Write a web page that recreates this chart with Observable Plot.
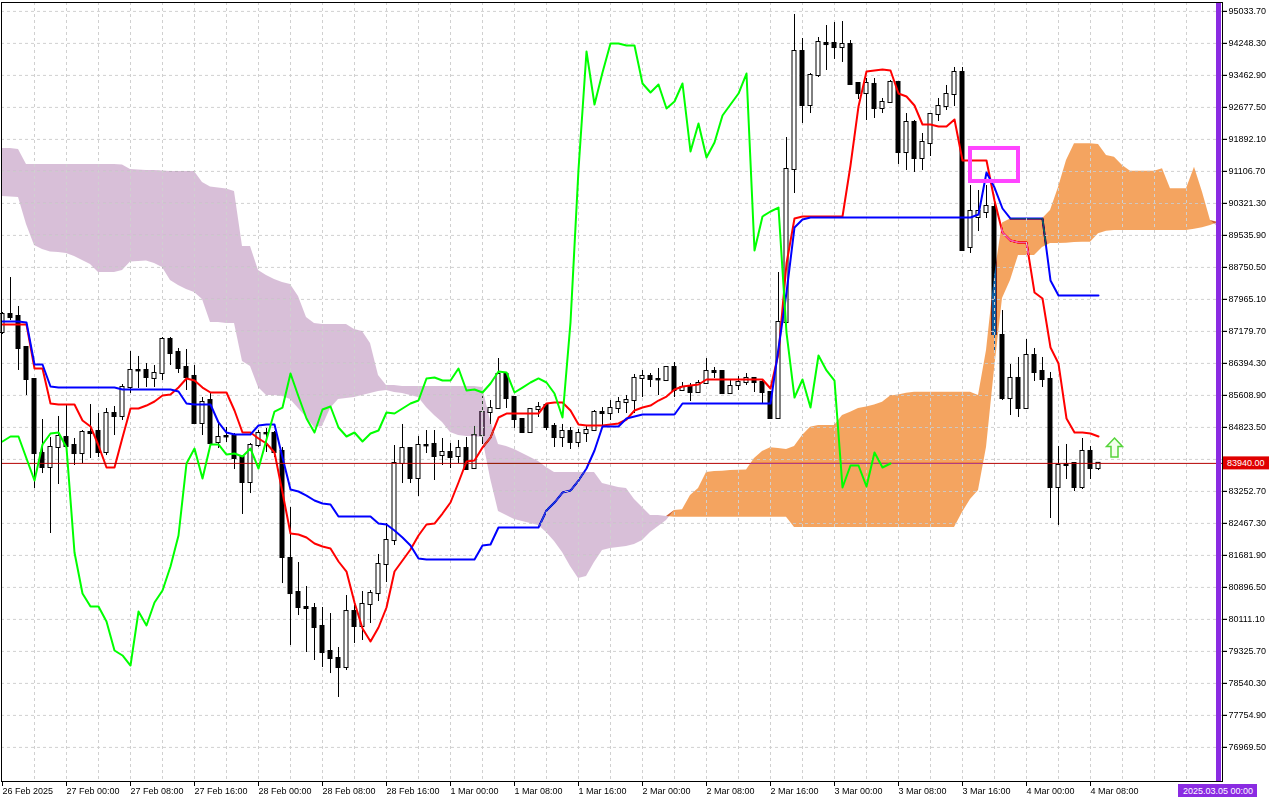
<!DOCTYPE html>
<html><head><meta charset="utf-8">
<script src="https://cdn.jsdelivr.net/npm/d3@7"></script>
<script src="https://cdn.jsdelivr.net/npm/@observablehq/plot@0.6"></script>
<style>
html,body{margin:0;padding:0;background:#fff;}
#chart{width:1280px;height:800px;overflow:hidden;}
</style></head><body><div id="chart"></div>
<script>
// ---- Hourly candles (index 0 = 26 Feb 16:00) ----
const open = [
87153,87594,87545,86784,85999,84182,83839,84330,84575,84379,
84182,84698,84723,84207,85164,85091,85802,86220,86220,86024,
86146,86981,86662,86293,86073,84919,85483,84453,84600,84600,
84084,83471,84379,84673,84673,84232,81606,80771,80403,80378,
79937,79323,79151,78930,80304,79937,80477,80746,81458,82047,
83937,84305,83569,84379,84404,84133,84207,84109,84305,83814,
84624,85189,85287,86122,85557,85017,84698,85262,85360,84846,
84575,84723,84453,84673,84747,85189,85164,85287,85434,85483,
86024,86073,85999,85974,86293,85729,85802,85680,85901,86195,
86195,85655,85851,85925,86024,85925,85680,85042,87398,91153,
94049,92724,93460,94246,94246,94147,94221,93264,93018,93240,
92650,92798,93289,91570,92307,91423,91791,92503,92699,92994,
93534,89239,89975,90098,90220,87079,85532,86024,85287,86588,
86195,85999,83348,83912,83937,83348,84232,83814];
const high = [
87643,88502,87791,86784,85999,85017,84575,85091,85360,84551,
84747,85385,85164,85287,85336,85876,86686,86564,86391,86342,
87030,87030,86760,86735,86342,85557,85680,84944,84821,84673,
84084,84428,84747,84797,84723,84330,82857,81507,80918,80501,
80403,80255,79421,80697,80452,80795,80820,81704,82464,84379,
84895,84330,84600,84747,84747,84551,84428,84502,84575,84846,
85655,85483,86514,86146,85581,85017,85287,85434,85360,84919,
84895,84821,84772,84870,85238,85311,85483,85557,85606,86122,
86220,86146,86269,86293,86416,85925,85901,85974,86514,86293,
86195,85999,86073,86146,86048,85974,85680,88625,91938,94958,
94368,93509,94393,94687,94761,94785,94319,93264,93387,93387,
92896,93338,93289,92527,92356,92037,92527,92896,93215,93657,
93657,90760,90638,90760,90392,87692,86367,86539,86981,86760,
86539,86171,84355,84404,83962,84551,84355,83962];
const low = [
87104,87447,86220,85606,83324,83691,82219,83422,84256,83888,
83937,84060,84084,84133,84624,84993,85655,85778,85802,85802,
85974,86342,86146,85729,84895,84624,84379,84305,84453,83790,
82686,83200,84330,84207,84084,80991,79470,80206,79298,79102,
78930,78782,78194,78856,79519,79593,80010,80550,81016,81924,
83446,83446,83127,84182,83520,83888,83814,83937,83790,83790,
84404,84895,85262,85287,84797,84673,84673,85066,84747,84330,
84330,84281,84330,84453,84723,84821,84993,85164,85164,85164,
85557,85802,85606,85950,85557,85704,85459,85655,85901,86024,
85630,85630,85729,85851,85680,85410,85017,85017,87398,90564,
92282,92527,93411,93583,93854,93780,93240,92871,92356,92405,
92527,92773,91276,91129,91080,91129,91472,92331,92601,92699,
89141,89092,89631,89950,86686,85483,85115,85066,85262,85950,
85802,82587,82416,83544,83250,83299,83544,83765];
const close = [
87594,87520,86760,85999,84182,83839,84330,84600,84355,84182,
84698,84673,84207,85164,85091,85802,86220,86210,86048,86146,
86981,86637,86269,86048,84919,85434,84428,84575,84590,84060,
83471,84379,84673,84665,84207,81630,80746,80403,80378,79912,
79298,79151,78930,80304,79937,80477,80746,81458,82047,83937,
84305,83569,84379,84370,84109,84207,84084,84305,83790,84624,
85189,85287,86122,85532,85017,84698,85262,85311,84821,84575,
84723,84453,84673,84747,85189,85164,85287,85434,85483,86024,
86073,85999,85990,86293,85729,85802,85680,85901,86195,86171,
85655,85827,85925,86024,85925,85680,85042,87398,91153,94049,
92724,93460,94270,94220,94147,94221,93240,93018,93264,92650,
92798,93289,91570,92307,91423,91816,92503,92699,92994,93534,
89165,90122,90122,90245,87104,85532,86024,85287,86588,86171,
85999,83348,83888,83888,83348,84232,83814,83940];

// ---- Ichimoku lines ----
const tenkan = [
87349,87349,87349,87349,86269,86269,85410,85385,85385,85385,
84993,84846,84379,83839,83839,84575,85287,85287,85360,85459,
85606,85630,85802,86024,85974,85802,85680,85680,85680,85238,
84698,84698,84551,84428,84207,83225,82219,82195,82121,81974,
81900,81851,81532,81286,80525,79887,79568,79912,80403,81286,
81556,81826,82170,82440,82464,82710,82980,83471,83986,84011,
84330,84575,85066,85164,85164,85164,85164,85164,85410,85434,
85434,85238,84895,84870,84870,84870,84895,84919,85017,85238,
85311,85360,85483,85581,85753,85827,85851,85876,85999,85999,
85999,85999,85999,85999,85999,85999,85778,86637,88846,89950,
90000,90000,90000,90000,90000,90000,91251,92700,93558,93583,
93608,93583,93018,92945,92724,92258,92258,92208,92208,92380,
91374,91374,91374,91374,90392,89607,89411,89361,89361,88134,
87987,86784,86391,85042,84698,84698,84673,84600];
const kijun = [
87422,87422,87422,87398,86367,86367,85827,85802,85802,85802,
85802,85802,85802,85802,85802,85753,85753,85753,85753,85753,
85753,85753,85704,85410,85385,85385,85385,84944,84698,84649,
84649,84649,84870,84895,84895,84084,83299,83250,83151,83029,
82955,82931,82636,82636,82636,82636,82636,82464,82440,82293,
82121,81924,81605,81581,81581,81581,81581,81581,81581,81581,
81924,81949,82366,82366,82366,82366,82366,82366,82784,82980,
83225,83274,83520,83814,84256,84846,84846,84846,85042,85091,
85140,85140,85140,85140,85140,85410,85410,85410,85410,85410,
85410,85410,85410,85410,85410,85410,85410,86760,88134,89730,
89926,89975,89975,89975,89975,89975,89975,89975,89975,89975,
89975,89975,89975,89975,89975,89975,89975,89975,89975,89975,
89975,89975,90049,91080,90711,90196,89950,89950,89950,89950,
89950,88429,88061,88061,88061,88061,88061,88061];
const chikou = [
84477,84600,84600,84060,83520,84404,84673,84698,84330,81753,
80746,80427,80427,80059,79347,79225,78979,80304,79961,80525,
80820,81409,82170,83937,84305,83569,84404,84404,84158,84182,
84109,84305,83814,84526,85213,85311,86146,85581,85042,84698,
85262,85336,84821,84600,84698,84477,84673,84747,85189,85164,
85287,85410,85483,86024,86048,85974,85974,86269,85729,85753,
85680,85901,86195,86171,85680,85802,85925,86024,85925,85655,
85066,87398,91153,94049,92749,93534,94246,94246,94197,94197,
93264,93043,93240,92650,92822,93264,91595,92282,91448,91816,
92478,92749,93018,93509,89165,90000,90122,90220,87150,85557,
85999,85311,86588,86220,85974,83348,83888,83888,83373,84207,
83839,83937];
const spanA = [
90491,90478,90466,89803,89288,89190,89128,89116,89092,89018,
88920,88822,88625,88625,88625,88674,88883,88895,88910,88846,
88748,88429,88306,88208,88134,87962,87398,87398,87373,87373,
86441,86318,85802,85606,85606,85581,85508,85287,85066,84821,
84846,85287,85508,85532,85557,85606,85655,85704,85729,85680,
85655,85606,85557,85311,85115,84944,84698,84624,84600,84600,
84575,83569,82759,82661,82563,82514,82465,82415,82244,82023,
81753,81409,81114,81163,81507,81802,81851,81875,81900,81949,
82047,82244,82391,82538,82784,82801,83152,83324,83716,83741,
83748,83765,83773,83778,84060,84232,84323,84305,84281,84354,
84624,84828,84870,84870,84870,85115,85196,85287,85324,85373,
85442,85594,85621,85663,85687,85687,85687,85687,85687,85687,
85687,85687,85606,86711,88527,89840,89938,89943,89943,89943,
89943,90147,90712,91374,91784,91784,91784,91767,91497,91455,
91251,91111,91111,91111,91111,91170,90680,90680,90680,91210,
90596,89901,89730];
const spanB = [
91669,91669,91644,91276,91276,91276,91276,91276,91276,91276,
91276,91276,91276,91276,91276,91264,91153,91138,91129,91129,
91116,91104,91104,91104,91104,90834,90724,90699,90675,90613,
89263,89263,88674,88551,88453,88380,88331,88036,87520,87373,
87349,87349,87349,87349,87226,87177,86882,86097,85851,85851,
85827,85827,85827,85827,85827,85827,85827,85827,85827,85827,
85802,84993,84404,84355,84281,84182,84084,83986,83839,83716,
83716,83716,83716,83716,83716,83446,83397,83348,83324,83054,
82857,82661,82661,82636,82619,82619,82619,82619,82619,82619,
82619,82619,82619,82619,82619,82619,82619,82619,82619,82366,
82366,82366,82366,82366,82366,82366,82366,82366,82366,82366,
82366,82366,82366,82366,82366,82366,82366,82366,82366,82366,
82735,83054,83275,84330,86244,87987,88429,89043,89043,89043,
89239,89337,89337,89344,89361,89369,89369,89575,89639,89656,
89656,89656,89656,89656,89656,89656,89656,89656,89656,89688,
89722,89779,89852];

// ---- Axis ticks and labels ----
const yTicks = [76969.50,77754.90,78540.30,79325.70,80111.10,80896.50,81681.90,82467.30,
  83252.70,84038.10,84823.50,85608.90,86394.30,87179.70,87965.10,88750.50,89535.90,
  90321.30,91106.70,91892.10,92677.50,93462.90,94248.30,95033.70];
const xTickIdx = [0,8,16,24,32,40,48,56,64,72,80,88,96,104,112,120,128,136];
const xTickLabels = ["26 Feb 2025","27 Feb 00:00","27 Feb 08:00","27 Feb 16:00","28 Feb 00:00",
  "28 Feb 08:00","28 Feb 16:00","1 Mar 00:00","1 Mar 08:00","1 Mar 16:00","2 Mar 00:00",
  "2 Mar 08:00","2 Mar 16:00","3 Mar 00:00","3 Mar 08:00","3 Mar 16:00","4 Mar 00:00","4 Mar 08:00"];
const gridIdx = d3.range(4, 152, 4);

// ---- Objects ----
const lastPrice = 83940.00;
const vLine = 152, vLineLabel = "2025.03.05 00:00";
const box = {i1: 121, i2: 127, p1: 90859, p2: 91669};
const arrow = {i: 139, p: 84330};

const candles = open.map((o, i) => ({i, o, h: high[i], l: low[i], c: close[i]}));
const toPts = arr => arr.map((v, i) => ({i, v}));
const cloud = spanA.map((a, i) => ({i, a, b: spanB[i], top: Math.max(a, spanB[i])}));
// the tick label hidden behind the current-price label in the reference
const yLabelTicks = yTicks.filter(t => Math.abs(t - lastPrice) > 250);

const arrowSymbol = {
  draw(ctx, size) {
    const s = Math.sqrt(size / Math.PI) / 9.5;
    ctx.moveTo(0, -9.5 * s);
    ctx.lineTo(8 * s, -1 * s);
    ctx.lineTo(3.5 * s, -1 * s);
    ctx.lineTo(3.5 * s, 9.5 * s);
    ctx.lineTo(-3.5 * s, 9.5 * s);
    ctx.lineTo(-3.5 * s, -1 * s);
    ctx.lineTo(-8 * s, -1 * s);
    ctx.closePath();
  }
};

const GRID = "#d0d0d0";
const PURPLE_INV = "#274027", ORANGE_INV = "#0b5b9f";
const FONT = "'Liberation Sans', Arial, sans-serif";

const plot = Plot.plot({
  width: 1280, height: 800,
  marginLeft: 1, marginRight: 58, marginTop: 2, marginBottom: 19,
  x: {type: "linear", domain: [-0.125, 152.5]},
  y: {type: "linear", domain: [76132.3, 95252.1]},
  style: {background: "#fff", color: "#000", fontFamily: FONT, fontSize: "9px"},
  marks: [
    Plot.ruleY(yTicks, {stroke: GRID, strokeDasharray: "3,3"}),
    Plot.ruleX(gridIdx, {stroke: GRID, strokeDasharray: "3,3"}),
    Plot.ruleX(candles, {x: "i", y1: "l", y2: "h", stroke: "#000", strokeWidth: 1}),
    Plot.rect(candles, {x1: d => d.i - 0.25, x2: d => d.i + 0.25, y1: "o", y2: "c",
      fill: d => d.c >= d.o ? "#ffffff" : "#000000", stroke: "#000", strokeWidth: 1,
      insetTop: -0.5, insetBottom: -0.5}),
    Plot.lineY(toPts(tenkan), {x: "i", y: "v", stroke: "#ff0000", strokeWidth: 2}),
    Plot.lineY(toPts(kijun), {x: "i", y: "v", stroke: "#0000ff", strokeWidth: 2}),
    Plot.ruleY([lastPrice], {stroke: "#b40000", strokeWidth: 1}),
    Plot.areaY(cloud, {x: "i", y1: "a", y2: "top", fill: PURPLE_INV}),
    Plot.areaY(cloud, {x: "i", y1: "b", y2: "top", fill: ORANGE_INV}),
    Plot.lineY(toPts(chikou), {x: "i", y: "v", stroke: "#00ff00", strokeWidth: 2}),
    Plot.rect([box], {x1: "i1", x2: "i2", y1: "p1", y2: "p2", fill: "none", stroke: "#ff44ff", strokeWidth: 4}),
    Plot.dot([arrow], {x: "i", y: "p", r: 9.5, symbol: arrowSymbol, fill: "#f4ffec", stroke: "#55d43a", strokeWidth: 1.5}),
    Plot.ruleX([vLine], {stroke: "#8a2be2", strokeWidth: 5}),
    Plot.frame({stroke: "#000"}),
    Plot.axisY(yTicks, {anchor: "right", tickSize: 4, tickPadding: 2, text: null, label: null}),
    Plot.axisY(yLabelTicks, {anchor: "right", tickSize: 4, tickPadding: 2, tickFormat: d => d.toFixed(2), label: null}),
    Plot.axisX(xTickIdx, {anchor: "bottom", tickSize: 5, tickPadding: 1, textAnchor: "start",
      tickFormat: d => xTickLabels[xTickIdx.indexOf(d)], label: null})
  ]
});

const svg = plot.tagName.toLowerCase() === "svg" ? plot : plot.querySelector("svg");
document.getElementById("chart").appendChild(plot);

try {
  const ns = "http://www.w3.org/2000/svg";
  const groups = Array.from(svg.querySelectorAll("g"));
  const clouds = groups.filter(g => {
    const f = (g.getAttribute("fill") || "").toLowerCase();
    return f === PURPLE_INV || f === ORANGE_INV;
  });
  clouds.forEach(g => g.style.mixBlendMode = "difference");
  const grids = groups.filter(g => (g.getAttribute("stroke-dasharray") || "").replace(/\s/g, "") === "3,3");
  if (clouds.length) {
    const defs = document.createElementNS(ns, "defs");
    const cp = document.createElementNS(ns, "clipPath");
    cp.setAttribute("id", "cloudClip");
    clouds.forEach(g => g.querySelectorAll("path").forEach(p => {
      const q = document.createElementNS(ns, "path");
      q.setAttribute("d", p.getAttribute("d"));
      cp.appendChild(q);
    }));
    defs.appendChild(cp);
    svg.insertBefore(defs, svg.firstChild);
    const last = clouds[clouds.length - 1];
    grids.forEach(g => {
      const c = g.cloneNode(true);
      c.setAttribute("clip-path", "url(#cloudClip)");
      last.parentNode.insertBefore(c, last.nextSibling);
    });
  }
} catch (e) { console.log(e); }

// price and time labels
const xs = plot.scale("x"), ys = plot.scale("y");
const lab = d3.select(svg).append("g").attr("font-family", FONT).attr("font-size", 9);
const yp = ys.apply(lastPrice);
lab.append("rect").attr("x", 1223).attr("y", yp - 6.5).attr("width", 46).attr("height", 13).attr("fill", "#e00000");
lab.append("text").attr("x", 1227).attr("y", yp).attr("dy", "0.35em").attr("text-anchor", "start")
  .attr("fill", "#fff").text(lastPrice.toFixed(2));
const xv = xs.apply(vLine);
lab.append("rect").attr("x", xv - 40).attr("y", 784).attr("width", 79).attr("height", 13).attr("fill", "#8a2be2");
lab.append("text").attr("x", xv).attr("y", 790.5).attr("dy", "0.35em").attr("text-anchor", "middle")
  .attr("fill", "#fff").text(vLineLabel);
</script></body></html>
